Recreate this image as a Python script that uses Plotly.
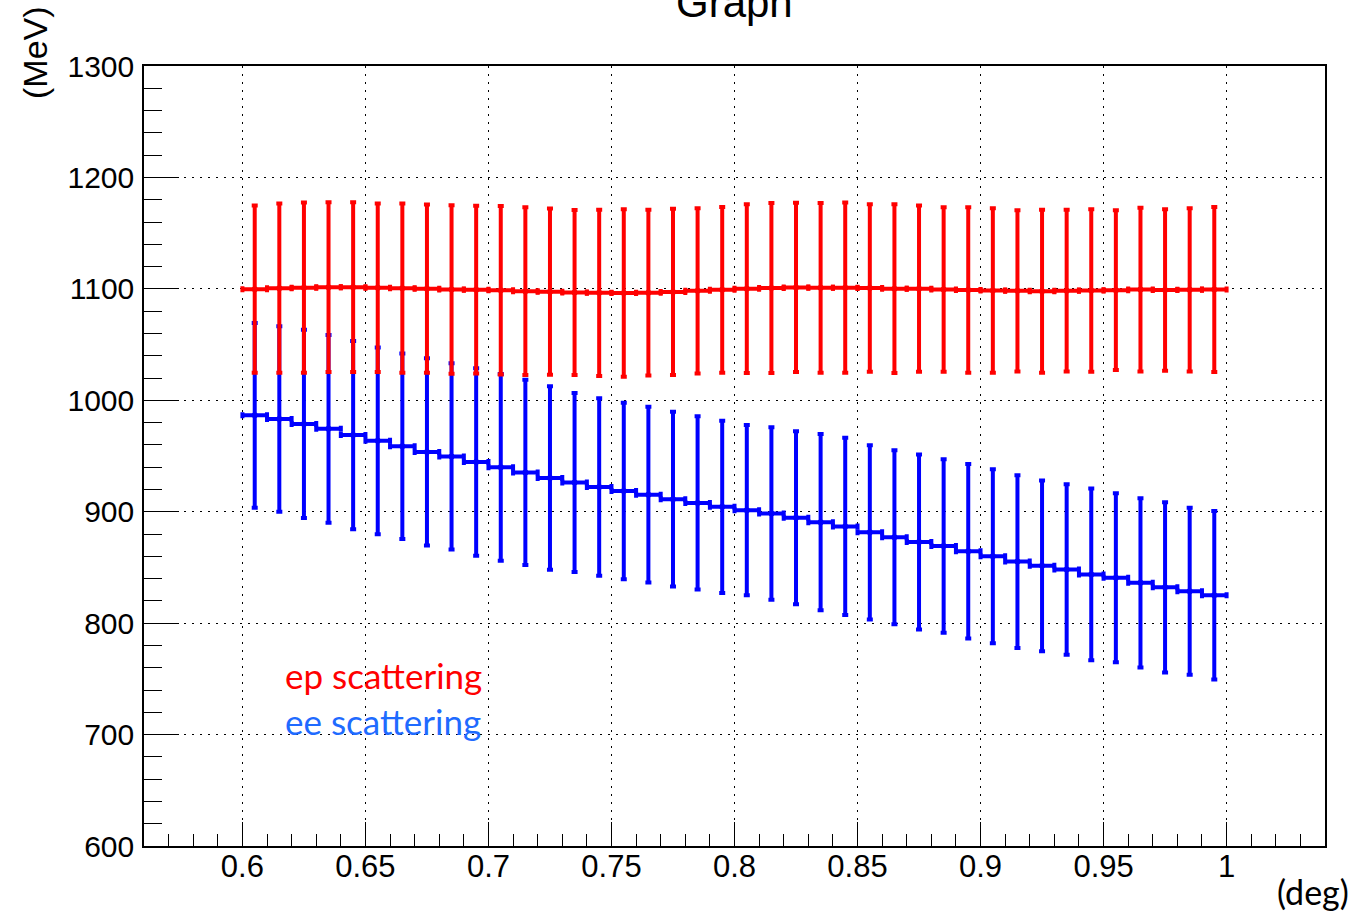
import plotly.graph_objects as go

# Scattering angle bin centres (deg); each bin is 0.01 deg wide
angle = [0.605, 0.615, 0.625, 0.635, 0.645, 0.655, 0.665, 0.675, 0.685, 0.695,
         0.705, 0.715, 0.725, 0.735, 0.745, 0.755, 0.765, 0.775, 0.785, 0.795,
         0.805, 0.815, 0.825, 0.835, 0.845, 0.855, 0.865, 0.875, 0.885, 0.895,
         0.905, 0.915, 0.925, 0.935, 0.945, 0.955, 0.965, 0.975, 0.985, 0.995]
bin_half_width = 0.005

# ep scattering: energy (MeV) and its uncertainty
ep_energy = [1099.7, 1100.6, 1101.1, 1101.5, 1101.5, 1100.9, 1100.6, 1100.2, 1099.4, 1099.3,
             1098.8, 1097.9, 1097.5, 1096.7, 1096.4, 1096.3, 1096.6, 1097.2, 1098.2, 1099.1,
             1100.2, 1100.8, 1101.3, 1100.9, 1101.0, 1100.8, 1100.2, 1100.1, 1099.4, 1099.0,
             1098.5, 1098.2, 1097.9, 1098.4, 1098.5, 1098.8, 1099.4, 1099.0, 1099.1, 1099.4]
ep_err = [75.0, 75.9, 76.4, 76.2, 76.2, 75.6, 75.9, 75.5, 75.6, 75.2,
          75.6, 75.3, 74.6, 74.1, 74.7, 75.2, 74.3, 74.6, 74.1, 74.4,
          75.8, 76.3, 76.0, 76.2, 76.4, 75.1, 75.8, 74.6, 73.8, 74.3,
          73.8, 72.3, 73.2, 72.5, 72.9, 71.7, 73.5, 72.5, 73.2, 74.1]

# ee scattering: energy (MeV) and its uncertainty
ee_energy = [986.5, 983.2, 978.8, 974.4, 968.8, 963.6, 958.8, 953.7, 949.6, 944.6,
             939.8, 935.3, 930.2, 926.2, 922.2, 918.6, 915.3, 911.2, 907.9, 904.4,
             901.4, 898.5, 894.6, 890.6, 886.8, 881.5, 877.1, 872.8, 869.2, 864.5,
             860.0, 855.3, 851.4, 848.2, 843.7, 840.7, 836.2, 832.1, 828.6, 825.0]
ee_err = [82.9, 83.2, 84.5, 84.3, 84.5, 83.8, 83.2, 84.1, 83.6, 84.1,
          83.8, 83.2, 82.3, 80.4, 79.7, 79.1, 78.8, 78.4, 77.8, 77.3,
          76.4, 77.4, 77.7, 79.1, 79.5, 78.2, 78.0, 78.5, 77.9, 78.3,
          78.0, 77.5, 76.7, 76.5, 77.1, 75.9, 75.9, 76.4, 75.0, 75.6]

RED = "#ff0000"
BLUE = "#0000ff"

fig = go.Figure()


def add_series(energy, err, color):
    fig.add_trace(go.Scatter(
        x=angle, y=energy, mode="markers",
        marker=dict(size=0, color=color),
        error_y=dict(type="data", array=err, visible=True,
                     color=color, thickness=4, width=3),
        error_x=dict(type="constant", value=bin_half_width, visible=True,
                     color=color, thickness=4, width=3),
        showlegend=False, hoverinfo="skip",
    ))


add_series(ee_energy, ee_err, BLUE)
add_series(ep_energy, ep_err, RED)

W, H = 1367, 911
L, R, T, B = 144, 42, 66, 65
pw, ph = W - L - R, H - T - B


def px_x(p):
    return (p - L) / pw


def px_y(p):
    return 1 - (p - T) / ph


label_font = "Lato, Open Sans, sans-serif"

fig.update_layout(
    width=W, height=H,
    margin=dict(l=L, r=R, t=T, b=B),
    plot_bgcolor="white", paper_bgcolor="white",
    showlegend=False,
    font=dict(family="Liberation Sans, Arial, sans-serif", color="black"),
    annotations=[
        dict(text="Graph", xref="paper", yref="paper", x=0.5, y=px_y(2),
             xanchor="center", yanchor="middle", showarrow=False,
             font=dict(size=42, color="black")),
        dict(text="(MeV)", xref="paper", yref="paper", x=px_x(35), y=px_y(53),
             xanchor="center", yanchor="middle", textangle=-90, showarrow=False,
             font=dict(size=34, color="black")),
        dict(text="(deg)", xref="paper", yref="paper", x=px_x(1351), y=px_y(891),
             xanchor="right", yanchor="middle", showarrow=False,
             font=dict(size=34, color="black", family=label_font)),
        dict(text="ep scattering", xref="paper", yref="paper", x=px_x(283), y=px_y(675),
             xanchor="left", yanchor="middle", showarrow=False,
             font=dict(size=35, color=RED, family=label_font)),
        dict(text="ee scattering", xref="paper", yref="paper", x=px_x(283), y=px_y(721),
             xanchor="left", yanchor="middle", showarrow=False,
             font=dict(size=35, color="#1f6bff", family=label_font)),
    ],
)

grid_dash = "2px,6px"

fig.update_xaxes(
    range=[0.56, 1.04], tickmode="linear", tick0=0.6, dtick=0.05,
    ticks="inside", ticklen=24, tickwidth=1, tickcolor="black",
    showline=True, mirror=True, linecolor="black", linewidth=1.5,
    showgrid=True, gridcolor="black", gridwidth=1, griddash=grid_dash,
    zeroline=False, tickfont=dict(size=31), ticklabelstandoff=-8,
    minor=dict(ticks="inside", ticklen=12, tick0=0.6, dtick=0.01,
               tickcolor="black", tickwidth=1, showgrid=False),
)
fig.update_yaxes(
    range=[600, 1300], tickmode="linear", tick0=600, dtick=100,
    ticks="inside", ticklen=35, tickwidth=1, tickcolor="black",
    showline=True, mirror=True, linecolor="black", linewidth=1.5,
    showgrid=True, gridcolor="black", gridwidth=1, griddash=grid_dash,
    zeroline=False, tickfont=dict(size=30), ticklabelstandoff=2,
    minor=dict(ticks="inside", ticklen=18, tick0=600, dtick=20,
               tickcolor="black", tickwidth=1, showgrid=False),
)

fig.write_html("out.html")
